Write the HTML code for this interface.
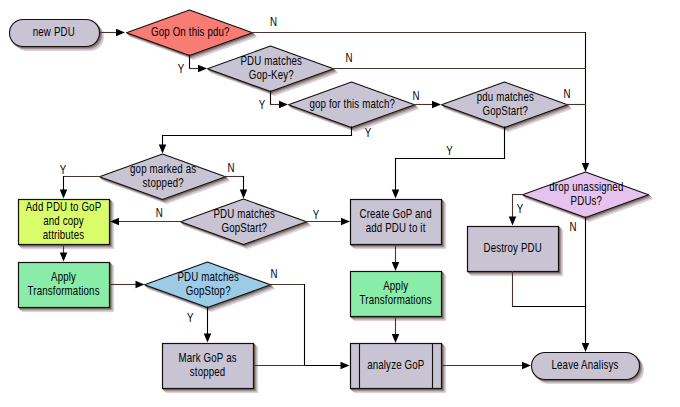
<!DOCTYPE html>
<html><head><meta charset="utf-8"><style>
html,body{margin:0;padding:0;background:#fff;width:680px;height:407px;overflow:hidden}
svg{display:block}
text{font-family:"Liberation Sans",sans-serif;fill:#000;stroke:#000;stroke-width:0;letter-spacing:0.2px}
</style></head><body>
<svg width="680" height="407" viewBox="0 0 680 407">
<defs><filter id="sh" x="-5%" y="-5%" width="120%" height="130%" color-interpolation-filters="sRGB">
<feOffset in="SourceAlpha" dx="1" dy="1" result="o1"/><feFlood flood-color="#7c6c5e"/><feComposite in2="o1" operator="in" result="s1"/>
<feOffset in="SourceAlpha" dx="2" dy="2" result="o2"/><feFlood flood-color="#9e978f"/><feComposite in2="o2" operator="in" result="s2"/>
<feOffset in="SourceAlpha" dx="3" dy="3" result="o3"/><feFlood flood-color="#c3c0c6"/><feComposite in2="o3" operator="in" result="s3"/>
<feOffset in="SourceAlpha" dx="4" dy="4" result="o4"/><feFlood flood-color="#e4cfe8"/><feComposite in2="o4" operator="in" result="s4"/>
<feMerge><feMergeNode in="s4"/><feMergeNode in="s3"/><feMergeNode in="s2"/><feMergeNode in="s1"/><feMergeNode in="SourceGraphic"/></feMerge>
</filter></defs>
<rect width="680" height="407" fill="#fff"/>
<rect x="9.5" y="19.5" width="90.0" height="27.0" rx="13.5" ry="13.5" fill="#c8c4d4" stroke="#141010" stroke-width="1.1" filter="url(#sh)"/>
<polygon points="126.5,32.8 189.5,9.999999999999996 252.5,32.8 189.5,55.599999999999994" fill="#f87b74" stroke="#141010" stroke-width="1.1" stroke-linejoin="round" filter="url(#sh)"/>
<polygon points="207.5,68.8 270.5,46.0 333.5,68.8 270.5,91.6" fill="#c8c4d4" stroke="#141010" stroke-width="1.1" stroke-linejoin="round" filter="url(#sh)"/>
<polygon points="288.5,104.8 351.5,82.0 414.5,104.8 351.5,127.6" fill="#c8c4d4" stroke="#141010" stroke-width="1.1" stroke-linejoin="round" filter="url(#sh)"/>
<polygon points="441.5,104.8 504.5,82.0 567.5,104.8 504.5,127.6" fill="#c8c4d4" stroke="#141010" stroke-width="1.1" stroke-linejoin="round" filter="url(#sh)"/>
<polygon points="99.5,176.8 162.5,154.0 225.5,176.8 162.5,199.60000000000002" fill="#c8c4d4" stroke="#141010" stroke-width="1.1" stroke-linejoin="round" filter="url(#sh)"/>
<polygon points="180.5,221.8 243.5,199.0 306.5,221.8 243.5,244.60000000000002" fill="#c8c4d4" stroke="#141010" stroke-width="1.1" stroke-linejoin="round" filter="url(#sh)"/>
<polygon points="522.5,194.8 585.5,172.0 648.5,194.8 585.5,217.60000000000002" fill="#e6c2ee" stroke="#141010" stroke-width="1.1" stroke-linejoin="round" filter="url(#sh)"/>
<polygon points="144.5,284.8 207.5,262.0 270.5,284.8 207.5,307.6" fill="#9ccbe7" stroke="#141010" stroke-width="1.1" stroke-linejoin="round" filter="url(#sh)"/>
<rect x="18.5" y="199.5" width="91.0" height="45.0" fill="#d8fc6a" stroke="#141010" stroke-width="1.2" filter="url(#sh)"/>
<rect x="350.5" y="199.5" width="91.0" height="45.0" fill="#c8c4d4" stroke="#141010" stroke-width="1.2" filter="url(#sh)"/>
<rect x="467.5" y="226.5" width="91.0" height="45.0" fill="#c8c4d4" stroke="#141010" stroke-width="1.2" filter="url(#sh)"/>
<rect x="18.5" y="262.5" width="91.0" height="45.0" fill="#89eda9" stroke="#141010" stroke-width="1.2" filter="url(#sh)"/>
<rect x="350.5" y="271.5" width="91.0" height="45.0" fill="#89eda9" stroke="#141010" stroke-width="1.2" filter="url(#sh)"/>
<rect x="162.5" y="343.5" width="91.0" height="45.0" fill="#c8c4d4" stroke="#141010" stroke-width="1.2" filter="url(#sh)"/>
<rect x="350.5" y="343.5" width="91.0" height="45.0" fill="#c8c4d4" stroke="#141010" stroke-width="1.2" filter="url(#sh)"/>
<line x1="359.5" y1="343.5" x2="359.5" y2="388.5" stroke="#141010" stroke-width="1.1"/>
<line x1="432.5" y1="343.5" x2="432.5" y2="388.5" stroke="#141010" stroke-width="1.1"/>
<rect x="531.5" y="352.5" width="108.0" height="27.0" rx="13.5" ry="13.5" fill="#c8c4d4" stroke="#141010" stroke-width="1.1" filter="url(#sh)"/>
<line x1="100" y1="32.5" x2="120" y2="32.5" stroke="#4a342e" stroke-width="1.1" stroke-linecap="square"/>
<polygon points="125,32.5 116,28.75 116,36.25" fill="#000"/>
<line x1="253" y1="32.5" x2="585.5" y2="32.5" stroke="#4a342e" stroke-width="1.1" stroke-linecap="square"/>
<line x1="585.5" y1="32.5" x2="585.5" y2="166" stroke="#000" stroke-width="1.1" stroke-linecap="square"/>
<polygon points="585.5,172 581.75,163 589.25,163" fill="#000"/>
<line x1="189.5" y1="55" x2="189.5" y2="68.5" stroke="#000" stroke-width="1.1" stroke-linecap="square"/>
<line x1="189.5" y1="68.5" x2="202" y2="68.5" stroke="#4a342e" stroke-width="1.1" stroke-linecap="square"/>
<polygon points="207,68.5 198,64.75 198,72.25" fill="#000"/>
<line x1="333" y1="68.5" x2="585.5" y2="68.5" stroke="#4a342e" stroke-width="1.1" stroke-linecap="square"/>
<line x1="270.5" y1="91" x2="270.5" y2="104.5" stroke="#000" stroke-width="1.1" stroke-linecap="square"/>
<line x1="270.5" y1="104.5" x2="283" y2="104.5" stroke="#4a342e" stroke-width="1.1" stroke-linecap="square"/>
<polygon points="288,104.5 279,100.75 279,108.25" fill="#000"/>
<line x1="414" y1="104.5" x2="436" y2="104.5" stroke="#4a342e" stroke-width="1.1" stroke-linecap="square"/>
<polygon points="441,104.5 432,100.75 432,108.25" fill="#000"/>
<line x1="567" y1="104.5" x2="585.5" y2="104.5" stroke="#4a342e" stroke-width="1.1" stroke-linecap="square"/>
<line x1="351.5" y1="127" x2="351.5" y2="135.5" stroke="#000" stroke-width="1.1" stroke-linecap="square"/>
<line x1="351.5" y1="135.5" x2="162.5" y2="135.5" stroke="#000" stroke-width="1.1" stroke-linecap="square"/>
<line x1="162.5" y1="135.5" x2="162.5" y2="148" stroke="#000" stroke-width="1.1" stroke-linecap="square"/>
<polygon points="162.5,153.5 158.75,144.5 166.25,144.5" fill="#000"/>
<line x1="504.5" y1="127" x2="504.5" y2="158.5" stroke="#000" stroke-width="1.1" stroke-linecap="square"/>
<line x1="504.5" y1="158.5" x2="395.5" y2="158.5" stroke="#000" stroke-width="1.1" stroke-linecap="square"/>
<line x1="395.5" y1="158.5" x2="395.5" y2="193" stroke="#000" stroke-width="1.1" stroke-linecap="square"/>
<polygon points="395.5,198.5 391.75,189.5 399.25,189.5" fill="#000"/>
<line x1="100" y1="176.5" x2="63.5" y2="176.5" stroke="#4a342e" stroke-width="1.1" stroke-linecap="square"/>
<line x1="63.5" y1="176.5" x2="63.5" y2="193" stroke="#000" stroke-width="1.1" stroke-linecap="square"/>
<polygon points="63.5,198.5 59.75,189.5 67.25,189.5" fill="#000"/>
<line x1="225" y1="176.5" x2="243.5" y2="176.5" stroke="#4a342e" stroke-width="1.1" stroke-linecap="square"/>
<line x1="243.5" y1="176.5" x2="243.5" y2="193" stroke="#000" stroke-width="1.1" stroke-linecap="square"/>
<polygon points="243.5,198.5 239.75,189.5 247.25,189.5" fill="#000"/>
<line x1="181" y1="221.5" x2="115" y2="221.5" stroke="#4a342e" stroke-width="1.1" stroke-linecap="square"/>
<polygon points="110,221.5 119,217.75 119,225.25" fill="#000"/>
<line x1="306" y1="221.5" x2="345" y2="221.5" stroke="#4a342e" stroke-width="1.1" stroke-linecap="square"/>
<polygon points="350,221.5 341,217.75 341,225.25" fill="#000"/>
<line x1="63.5" y1="244.5" x2="63.5" y2="256" stroke="#4a342e" stroke-width="1.1" stroke-linecap="square"/>
<polygon points="63.5,261.5 59.75,252.5 67.25,252.5" fill="#000"/>
<line x1="109.5" y1="284.5" x2="139" y2="284.5" stroke="#4a342e" stroke-width="1.1" stroke-linecap="square"/>
<polygon points="144.5,284.5 135.5,280.75 135.5,288.25" fill="#000"/>
<line x1="207.5" y1="307" x2="207.5" y2="337" stroke="#000" stroke-width="1.1" stroke-linecap="square"/>
<polygon points="207.5,342.5 203.75,333.5 211.25,333.5" fill="#000"/>
<line x1="270" y1="284.5" x2="304.5" y2="284.5" stroke="#4a342e" stroke-width="1.1" stroke-linecap="square"/>
<line x1="304.5" y1="284.5" x2="304.5" y2="365.5" stroke="#000" stroke-width="1.1" stroke-linecap="square"/>
<line x1="304.5" y1="365.5" x2="344" y2="365.5" stroke="#000" stroke-width="1.1" stroke-linecap="square"/>
<polygon points="349.5,365.5 340.5,361.75 340.5,369.25" fill="#000"/>
<line x1="254" y1="365.5" x2="304.5" y2="365.5" stroke="#4a342e" stroke-width="1.1" stroke-linecap="square"/>
<line x1="395.5" y1="244.5" x2="395.5" y2="265" stroke="#4a342e" stroke-width="1.1" stroke-linecap="square"/>
<polygon points="395.5,271 391.75,262 399.25,262" fill="#000"/>
<line x1="395.5" y1="316.5" x2="395.5" y2="337" stroke="#4a342e" stroke-width="1.1" stroke-linecap="square"/>
<polygon points="395.5,343 391.75,334 399.25,334" fill="#000"/>
<line x1="441.5" y1="365.5" x2="525" y2="365.5" stroke="#4a342e" stroke-width="1.1" stroke-linecap="square"/>
<polygon points="531,365.5 522,361.75 522,369.25" fill="#000"/>
<line x1="523" y1="194.5" x2="512.5" y2="194.5" stroke="#4a342e" stroke-width="1.1" stroke-linecap="square"/>
<line x1="512.5" y1="194.5" x2="512.5" y2="220" stroke="#4a342e" stroke-width="1.1" stroke-linecap="square"/>
<polygon points="512.5,225.5 508.75,216.5 516.25,216.5" fill="#000"/>
<line x1="585.5" y1="217" x2="585.5" y2="346" stroke="#000" stroke-width="1.1" stroke-linecap="square"/>
<polygon points="585.5,352 581.75,343 589.25,343" fill="#000"/>
<line x1="512.5" y1="271.5" x2="512.5" y2="306.5" stroke="#4a342e" stroke-width="1.1" stroke-linecap="square"/>
<line x1="512.5" y1="306.5" x2="585.5" y2="306.5" stroke="#000" stroke-width="1.1" stroke-linecap="square"/>
<text transform="translate(53.8,36.32) scale(0.79,1)" text-anchor="middle" font-size="12.3">new PDU</text>
<text transform="translate(190.3,35.82) scale(0.79,1)" text-anchor="middle" font-size="12.3">Gop On this pdu?</text>
<text transform="translate(271.3,64.82) scale(0.79,1)" text-anchor="middle" font-size="12.3">PDU matches</text>
<text transform="translate(271.3,78.82) scale(0.79,1)" text-anchor="middle" font-size="12.3">Gop-Key?</text>
<text transform="translate(352.2,107.82) scale(0.79,1)" text-anchor="middle" font-size="12.3">gop for this match?</text>
<text transform="translate(505.3,100.82) scale(0.79,1)" text-anchor="middle" font-size="12.3">pdu matches</text>
<text transform="translate(505.3,114.82) scale(0.79,1)" text-anchor="middle" font-size="12.3">GopStart?</text>
<text transform="translate(163.2,172.82) scale(0.79,1)" text-anchor="middle" font-size="12.3">gop marked as</text>
<text transform="translate(163.2,186.82) scale(0.79,1)" text-anchor="middle" font-size="12.3">stopped?</text>
<text transform="translate(63.5,211.32) scale(0.79,1)" text-anchor="middle" font-size="12.3">Add PDU to GoP</text>
<text transform="translate(63.5,225.32) scale(0.79,1)" text-anchor="middle" font-size="12.3">and copy</text>
<text transform="translate(63.5,239.32) scale(0.79,1)" text-anchor="middle" font-size="12.3">attributes</text>
<text transform="translate(244.3,217.82) scale(0.79,1)" text-anchor="middle" font-size="12.3">PDU matches</text>
<text transform="translate(244.3,231.82) scale(0.79,1)" text-anchor="middle" font-size="12.3">GopStart?</text>
<text transform="translate(395.6,218.32) scale(0.79,1)" text-anchor="middle" font-size="12.3">Create GoP and</text>
<text transform="translate(395.6,232.32) scale(0.79,1)" text-anchor="middle" font-size="12.3">add PDU to it</text>
<text transform="translate(586.4,190.82) scale(0.79,1)" text-anchor="middle" font-size="12.3">drop unassigned</text>
<text transform="translate(586.4,204.82) scale(0.79,1)" text-anchor="middle" font-size="12.3">PDUs?</text>
<text transform="translate(512.7,252.32) scale(0.79,1)" text-anchor="middle" font-size="12.3">Destroy PDU</text>
<text transform="translate(63.6,281.32) scale(0.79,1)" text-anchor="middle" font-size="12.3">Apply</text>
<text transform="translate(63.6,295.32) scale(0.79,1)" text-anchor="middle" font-size="12.3">Transformations</text>
<text transform="translate(208.2,280.82) scale(0.79,1)" text-anchor="middle" font-size="12.3">PDU matches</text>
<text transform="translate(208.2,294.82) scale(0.79,1)" text-anchor="middle" font-size="12.3">GopStop?</text>
<text transform="translate(395.7,290.32) scale(0.79,1)" text-anchor="middle" font-size="12.3">Apply</text>
<text transform="translate(395.7,304.32) scale(0.79,1)" text-anchor="middle" font-size="12.3">Transformations</text>
<text transform="translate(207.6,362.32) scale(0.79,1)" text-anchor="middle" font-size="12.3">Mark GoP as</text>
<text transform="translate(207.6,376.32) scale(0.79,1)" text-anchor="middle" font-size="12.3">stopped</text>
<text transform="translate(395.8,369.32) scale(0.79,1)" text-anchor="middle" font-size="12.3">analyze GoP</text>
<text transform="translate(585,369.32) scale(0.79,1)" text-anchor="middle" font-size="12.3">Leave Analisys</text>
<text transform="translate(273.5,25.50) scale(0.79,1)" text-anchor="middle" font-size="12.3" style="stroke-width:0">N</text>
<text transform="translate(181,72.50) scale(0.79,1)" text-anchor="middle" font-size="12.3" style="stroke-width:0">Y</text>
<text transform="translate(349,61.50) scale(0.79,1)" text-anchor="middle" font-size="12.3" style="stroke-width:0">N</text>
<text transform="translate(262,109.00) scale(0.79,1)" text-anchor="middle" font-size="12.3" style="stroke-width:0">Y</text>
<text transform="translate(416,100.00) scale(0.79,1)" text-anchor="middle" font-size="12.3" style="stroke-width:0">N</text>
<text transform="translate(567,98.00) scale(0.79,1)" text-anchor="middle" font-size="12.3" style="stroke-width:0">N</text>
<text transform="translate(368,137.00) scale(0.79,1)" text-anchor="middle" font-size="12.3" style="stroke-width:0">Y</text>
<text transform="translate(449.5,155.00) scale(0.79,1)" text-anchor="middle" font-size="12.3" style="stroke-width:0">Y</text>
<text transform="translate(63,174.00) scale(0.79,1)" text-anchor="middle" font-size="12.3" style="stroke-width:0">Y</text>
<text transform="translate(231,172.00) scale(0.79,1)" text-anchor="middle" font-size="12.3" style="stroke-width:0">N</text>
<text transform="translate(159.4,217.00) scale(0.79,1)" text-anchor="middle" font-size="12.3" style="stroke-width:0">N</text>
<text transform="translate(316,219.00) scale(0.79,1)" text-anchor="middle" font-size="12.3" style="stroke-width:0">Y</text>
<text transform="translate(190.4,322.00) scale(0.79,1)" text-anchor="middle" font-size="12.3" style="stroke-width:0">Y</text>
<text transform="translate(274,278.00) scale(0.79,1)" text-anchor="middle" font-size="12.3" style="stroke-width:0">N</text>
<text transform="translate(520,213.00) scale(0.79,1)" text-anchor="middle" font-size="12.3" style="stroke-width:0">Y</text>
<text transform="translate(573,231.00) scale(0.79,1)" text-anchor="middle" font-size="12.3" style="stroke-width:0">N</text>
</svg>
</body></html>
